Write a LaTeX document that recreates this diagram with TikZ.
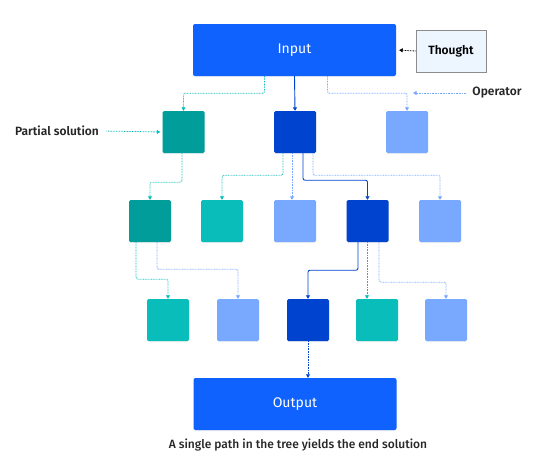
\documentclass[tikz,border=0pt]{standalone}
\usepackage{fontspec}
\setmainfont{Fira Sans}[BoldFont={Fira Sans SemiBold}]
\newfontfamily\medfont{Fira Sans Medium}
\usetikzlibrary{arrows.meta,shadows}
\definecolor{ibmblue}{HTML}{0F62FE}
\definecolor{darkblue}{HTML}{0043CE}
\definecolor{lightblue}{HTML}{78A9FF}
\definecolor{darkteal}{HTML}{009D9A}
\definecolor{lightteal}{HTML}{08BDBA}
\definecolor{paleblue}{HTML}{EDF5FF}
\tikzset{
    %Define standard arrow tip
    >={Triangle[length=3.5pt,width=4pt]},
    %Define style for boxes
    bigbox/.style={
           rectangle,
           rounded corners=2pt,
           fill=ibmblue,
           minimum width=203pt,
           minimum height=52pt,
           text=white,
           font=\fontsize{14}{16}\selectfont,
           drop shadow={opacity=0.12,shadow xshift=0pt,shadow yshift=-1pt}},
    sq/.style={
           rectangle,
           rounded corners=1.5pt,
           minimum width=42pt,
           minimum height=42pt,
           fill=#1,
           drop shadow={opacity=0.12,shadow xshift=0pt,shadow yshift=-1pt}},
    thoughtbox/.style={
           rectangle,
           draw=black!45, thick,
           fill=paleblue,
           minimum width=70pt,
           minimum height=42pt,
           font=\fontsize{12}{14}\selectfont\bfseries},
    lbl/.style={
           font=\fontsize{12}{14}\selectfont\bfseries,
           text=black!85},
    % Define arrow style
    dots/.style={
           ->,
           draw=#1,
           line width=0.8pt,
           dash pattern=on 0.8pt off 0.8pt,
           rounded corners=2pt},
    sol/.style={
           ->,
           draw=darkblue,
           line width=0.9pt,
           rounded corners=2pt}
}
\begin{document}
\begin{tikzpicture}[x=1pt,y=-1pt]
\useasboundingbox (0,0) rectangle (551,458);
\node[bigbox](in) at (294.5,50){Input};
\node[thoughtbox](th) at (451,51){Thought};
\node[lbl](op) at (497,93){Operator};
\node[lbl](ps) at (57,131){Partial solution};
% first level
\node[sq=darkteal](p1) at (183.5,132){};
\node[sq=darkblue](p2) at (295,132){};
\node[sq=lightblue](p3) at (407,132){};
% second level
\node[sq=darkteal](a) at (150,221){};
\node[sq=lightteal](b) at (222,221){};
\node[sq=lightblue](c) at (295,221){};
\node[sq=darkblue](d) at (367.5,221){};
\node[sq=lightblue](e) at (440,221){};
% third level
\node[sq=lightteal](r1) at (168,320){};
\node[sq=lightblue](r2) at (238,320){};
\node[sq=darkblue](r3) at (308,320){};
\node[sq=lightteal](r4) at (377,320){};
\node[sq=lightblue](r5) at (446,320){};
\node[bigbox](out) at (295,404){Output};
\node[font=\fontsize{12}{14}\selectfont\medfont,text=black!85](cap) at (298,445){A single path in the tree yields the end solution};
\coordinate (opin) at (413,93);
\draw[dots=black,shorten >=3pt] (th.west) -- (in.east);
\draw[dots=lightblue,shorten <=3pt] (op.west) -- (opin);
\draw[dots=lightteal,shorten <=4pt,shorten >=2pt] (ps.east) -- (p1.west);
\draw[dots=lightteal] ([xshift=-30pt]in.south) -- ++(0,17) -| (p1.north);
\draw[sol] (in.south) -- (p2.north);
\draw[dots=lightblue] ([xshift=33pt]in.south) -- ++(0,17) -| (p3.north);
\draw[dots=lightteal] ([xshift=-1.5pt]p1.south) -- ++(0,29) -| (a.north);
\draw[dots=lightteal] ([xshift=-12pt]p2.south) -- ++(0,22) -| (b.north);
\draw[dots=lightblue] ([xshift=-3pt]p2.south) -- ([xshift=-3pt]c.north);
\draw[sol] ([xshift=8pt]p2.south) -- ++(0,27) -| (d.north);
\draw[dots=lightblue] ([xshift=18pt]p2.south) -- ++(0,22) -| (e.north);
\draw[dots=lightteal] ([xshift=-14pt]a.south) -- ++(0,37) -| (r1.north);
\draw[dots=lightblue] ([xshift=7pt]a.south) -- ++(0,27) -| (r2.north);
\draw[sol] ([xshift=-9.5pt]d.south) -- ++(0,28) -| (r3.north);
\draw[dots=lightteal] ([xshift=-0.5pt]d.south) -- ([xshift=-0.5pt]d.south |- r4.north);
\draw[dots=lightblue] ([xshift=11.5pt]d.south) -- ++(0,40) -| (r5.north);
\draw[dots=darkblue] (r3.south) -- (r3.south |- out.north);
\end{tikzpicture}
\end{document}
